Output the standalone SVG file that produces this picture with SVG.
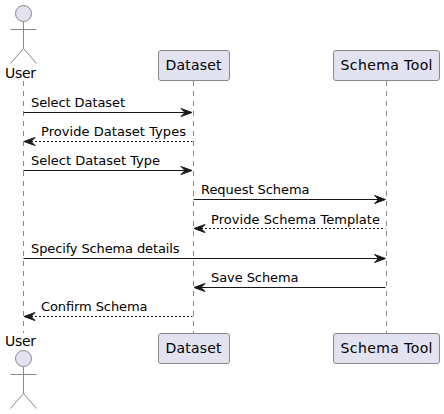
<svg xmlns="http://www.w3.org/2000/svg" width="444" height="414" viewBox="0 0 444 414">
<style>
text{font-family:"DejaVu Sans",sans-serif;font-size:13px;fill:#000}
.n{font-size:14px}
.life{stroke:#888;stroke-width:1;stroke-dasharray:5 5;fill:none}
.box{fill:#E2E2F0;stroke:#888;stroke-width:1}
.act{fill:none;stroke:#888;stroke-width:1}
.head{fill:#E2E2F0;stroke:#888;stroke-width:1}
.m{stroke:#181818;stroke-width:1;fill:none}
.d{stroke-dasharray:2 2}
.h{fill:#181818;stroke:#181818;stroke-width:1}
</style>
<rect width="444" height="414" fill="#fff"/>
<g id="lifelines">
<path class="life" d="M23.500 81V333"/>
<path class="life" d="M193.500 81V333"/>
<path class="life" d="M386.500 81V333"/>
</g>
<g id="user-top">
<circle class="head" cx="23.500" cy="13.500" r="8"/>
<path class="act" d="M23.500 21.500V48.500M10.500 29.500H36.500M23.500 48.500L10.500 63.500M23.500 48.500L36.500 63.500"/>
<text class="n" x="5" y="77.500" textLength="31">User</text>
</g>
<g id="dataset-top">
<rect class="box" x="158.500" y="50.500" width="71" height="30" rx="2.500"/>
<text class="n" x="165.500" y="70" textLength="56">Dataset</text>
</g>
<g id="schema-top">
<rect class="box" x="333.500" y="50.500" width="106" height="30" rx="2.500"/>
<text class="n" x="340.500" y="70" textLength="92">Schema Tool</text>
</g>
<g id="user-bottom">
<text class="n" x="5" y="346" textLength="31">User</text>
<circle class="head" cx="23.500" cy="358.500" r="8"/>
<path class="act" d="M23.500 366.500V393.500M10.500 374.500H36.500M23.500 393.500L10.500 408.500M23.500 393.500L36.500 408.500"/>
</g>
<g id="dataset-bottom">
<rect class="box" x="158.500" y="333.500" width="71" height="30" rx="2.500"/>
<text class="n" x="165.500" y="353" textLength="56">Dataset</text>
</g>
<g id="schema-bottom">
<rect class="box" x="333.500" y="333.500" width="106" height="30" rx="2.500"/>
<text class="n" x="340.500" y="353" textLength="92">Schema Tool</text>
</g>
<g id="connectors">
<path class="m" d="M23.500 112.500H189"/><path class="h" d="M181 108.500L192 112.500L181 116.500L185 112.500Z"/>
<path class="m d" d="M27 141.500H192.500"/><path class="h" d="M35 137.500L24 141.500L35 145.500L31 141.500Z"/>
<path class="m" d="M23.500 170.500H189"/><path class="h" d="M181 166.500L192 170.500L181 174.500L185 170.500Z"/>
<path class="m" d="M193.500 199.500H382"/><path class="h" d="M374.500 195.500L385.500 199.500L374.500 203.500L378.500 199.500Z"/>
<path class="m d" d="M197 228.500H385.500"/><path class="h" d="M205 224.500L194 228.500L205 232.500L201 228.500Z"/>
<path class="m" d="M23.500 258.500H382"/><path class="h" d="M374.500 254.500L385.500 258.500L374.500 262.500L378.500 258.500Z"/>
<path class="m" d="M197 287.500H385.500"/><path class="h" d="M205 283.500L194 287.500L205 291.500L201 287.500Z"/>
<path class="m d" d="M27 316.500H192.500"/><path class="h" d="M35 312.500L24 316.500L35 320.500L31 316.500Z"/>
</g>
<g id="labels">
<text x="31" y="107" textLength="94">Select Dataset</text>
<text x="41" y="136" textLength="145">Provide Dataset Types</text>
<text x="31" y="165" textLength="129">Select Dataset Type</text>
<text x="201" y="194" textLength="108.500">Request Schema</text>
<text x="211" y="224" textLength="169">Provide Schema Template</text>
<text x="31" y="253" textLength="148.500">Specify Schema details</text>
<text x="211" y="282" textLength="87.500">Save Schema</text>
<text x="41" y="311" textLength="106.500">Confirm Schema</text>
</g>
</svg>
